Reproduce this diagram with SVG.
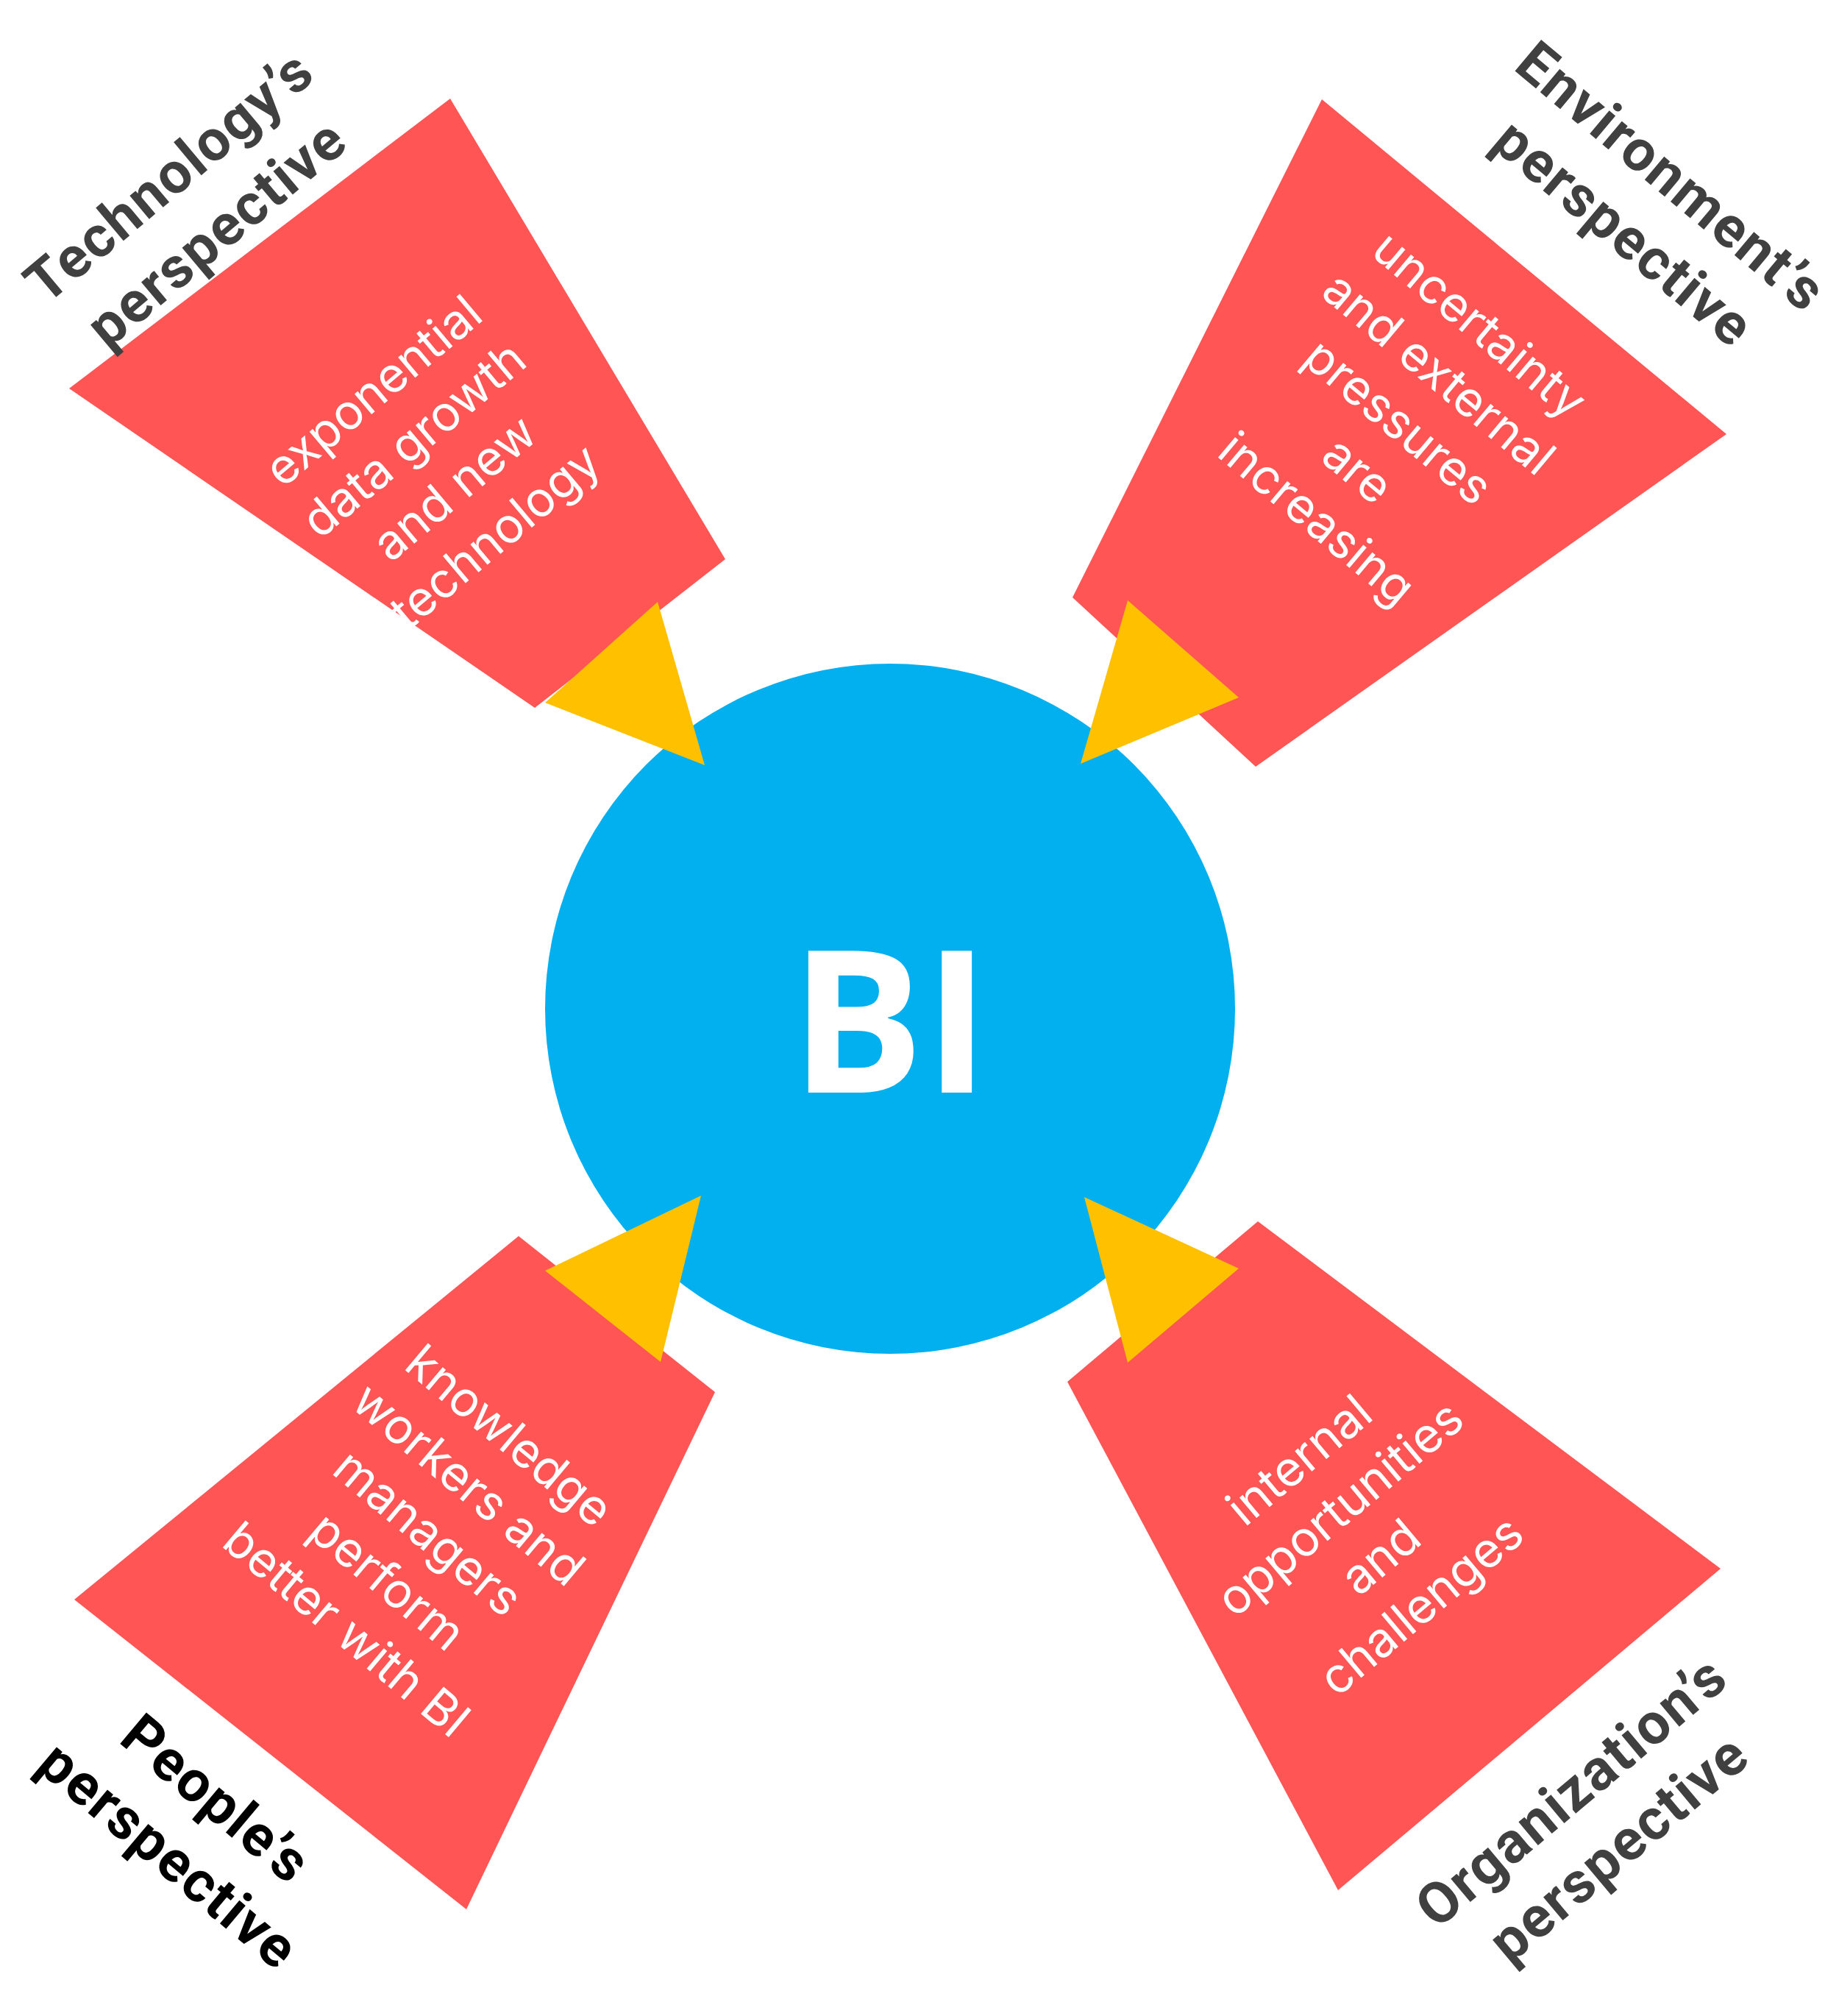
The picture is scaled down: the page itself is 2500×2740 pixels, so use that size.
<svg xmlns="http://www.w3.org/2000/svg" width="2500" height="2740" viewBox="0 0 2500 2740">
<style>
.q{fill:#FF5555}.t{fill:#FFC000}
.w{font-family:Inter,"Open Sans",sans-serif;font-size:66px;fill:#fff;text-anchor:middle}
.l{font-family:Roboto,"Liberation Sans",sans-serif;font-size:78px;font-weight:bold;fill:#404040;text-anchor:middle;letter-spacing:2px}
</style>
<rect width="2500" height="2740" fill="#fff"/>
<g id="bi"><circle cx="1210" cy="1371" r="469" fill="#03B0EF"/>
<text x="1210" y="1380" font-family="'Open Sans',sans-serif" font-weight="bold" font-size="270" fill="#fff" text-anchor="middle" dominant-baseline="central">BI</text></g>
<g id="tech"><polygon class="q" points="612,134 986,760 727,962 94,528"/>
<text class="w" transform="translate(590,630) rotate(-40)"><tspan x="0" y="-106">exponential</tspan><tspan x="0" y="-20">data growth</tspan><tspan x="0" y="66">and new</tspan><tspan x="0" y="152">technology</tspan></text>
<text class="l" transform="translate(262,278) rotate(-40)"><tspan x="0" y="-23">Technology’s</tspan><tspan x="0" y="77">perspective</tspan></text></g>
<g id="env"><polygon class="q" points="1797,135 2347,590 1707,1042 1458,812"/>
<text class="w" transform="translate(1901,573) rotate(40)"><tspan x="0" y="-149">uncertainty</tspan><tspan x="0" y="-63">and external</tspan><tspan x="0" y="23">pressures</tspan><tspan x="0" y="109">are</tspan><tspan x="0" y="195">increasing</tspan></text>
<text class="l" transform="translate(2240,278) rotate(40)"><tspan x="0" y="-23">Environment’s</tspan><tspan x="0" y="77">perspective</tspan></text></g>
<g id="people"><polygon class="q" points="705,1680 972,1892 634,2595 101,2174"/>
<text class="w" transform="translate(582,2083) rotate(40)"><tspan x="0" y="-149">knowledge</tspan><tspan x="0" y="-63">workers and</tspan><tspan x="0" y="23">managers</tspan><tspan x="0" y="109">perform</tspan><tspan x="0" y="195">better with BI</tspan></text>
<text class="l" style="fill:#000" transform="translate(262,2483) rotate(40)"><tspan x="0" y="-23">People’s</tspan><tspan x="0" y="77">perspective</tspan></text></g>
<g id="org"><polygon class="q" points="1710,1660 2339,2132 1819,2569 1451,1878"/>
<text class="w" transform="translate(1849,2083) rotate(-40)"><tspan x="0" y="-106">internal</tspan><tspan x="0" y="-20">opportunities</tspan><tspan x="0" y="66">and</tspan><tspan x="0" y="152">challenges</tspan></text>
<text class="l" transform="translate(2168,2473) rotate(-40)"><tspan x="0" y="-23">Organization’s</tspan><tspan x="0" y="77">perspective</tspan></text></g>
<g id="connectors">
<polygon class="t" points="894,818 958,1040 741,955"/>
<polygon class="t" points="1533,816 1684,948 1469,1038"/>
<polygon class="t" points="953,1625 898,1851 741,1727"/>
<polygon class="t" points="1474,1627 1684,1724 1533,1852"/>
</g>
</svg>
